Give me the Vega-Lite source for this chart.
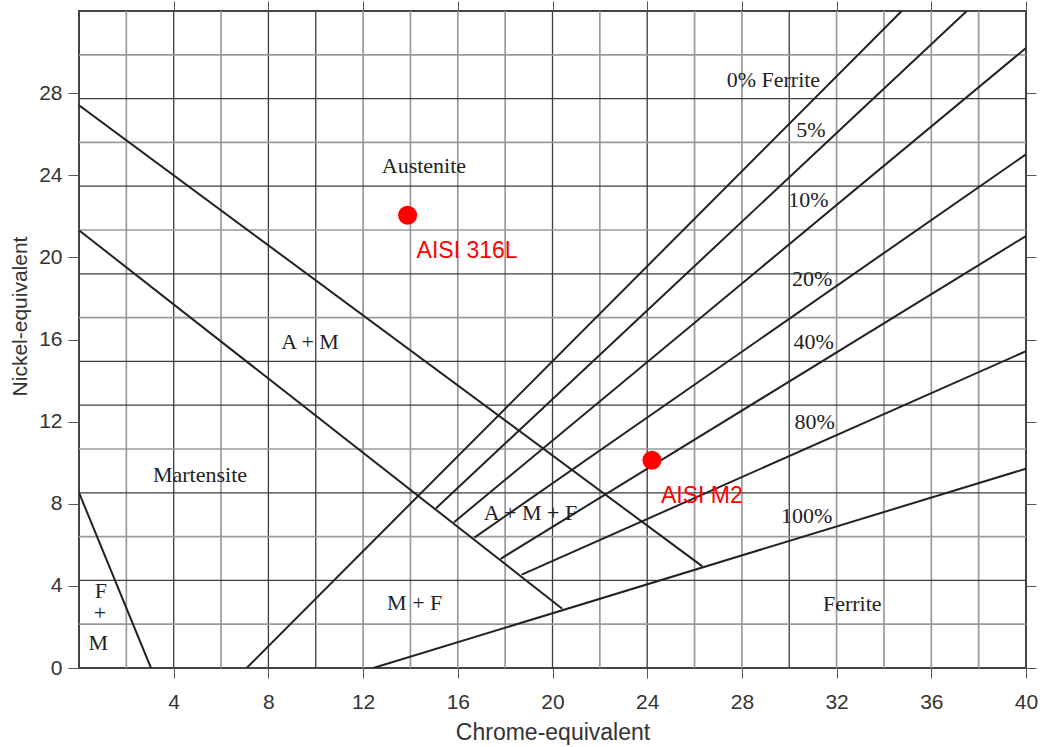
{
  "$schema": "https://vega.github.io/schema/vega-lite/v6.json",
  "width": 947,
  "height": 657,
  "autosize": {"type": "none"},
  "padding": {"left": 79, "top": 11, "right": 14, "bottom": 79},
  "background": "white",
  "config": {"view": {"stroke": "#444", "strokeWidth": 2}, "font": "Liberation Sans"},
  "datasets": {
    "gridVLight": [{"v": 2}, {"v": 6}, {"v": 12}, {"v": 14}, {"v": 16}, {"v": 18}, {"v": 22}, {"v": 26}, {"v": 28}, {"v": 32}, {"v": 34}, {"v": 36}, {"v": 38}],
    "gridVDark": [{"v": 4}, {"v": 8}, {"v": 10}, {"v": 20}, {"v": 24}, {"v": 30}],
    "gridHLight": [{"v": 29.867}, {"v": 25.6}, {"v": 21.333}, {"v": 17.067}, {"v": 10.667}, {"v": 6.4}, {"v": 2.133}],
    "gridHDark": [{"v": 27.733}, {"v": 23.467}, {"v": 19.2}, {"v": 14.933}, {"v": 12.8}, {"v": 8.533}, {"v": 4.267}],
    "lines": [
      {"id": "b1", "x": 0, "y": 27.41}, {"id": "b1", "x": 26.33, "y": 4.95},
      {"id": "b2", "x": 0, "y": 21.32}, {"id": "b2", "x": 20.41, "y": 2.89},
      {"id": "fm", "x": 0, "y": 8.54}, {"id": "fm", "x": 3.04, "y": 0},
      {"id": "f0", "x": 7.08, "y": 0}, {"id": "f0", "x": 34.75, "y": 32},
      {"id": "f5", "x": 15.08, "y": 7.78}, {"id": "f5", "x": 37.5, "y": 32},
      {"id": "f10", "x": 15.84, "y": 7.1}, {"id": "f10", "x": 40, "y": 30.2},
      {"id": "f20", "x": 16.7, "y": 6.35}, {"id": "f20", "x": 40, "y": 25.02},
      {"id": "f40", "x": 17.81, "y": 5.32}, {"id": "f40", "x": 40, "y": 21.04},
      {"id": "f80", "x": 18.7, "y": 4.55}, {"id": "f80", "x": 40, "y": 15.43},
      {"id": "f100", "x": 12.43, "y": 0}, {"id": "f100", "x": 40, "y": 9.71}
    ],
    "regions": [
      {"label": "Austenite", "x": 14.57, "y": 24.11},
      {"label": "0% Ferrite", "x": 29.33, "y": 28.3},
      {"label": "5%", "x": 30.92, "y": 25.86},
      {"label": "10%", "x": 30.81, "y": 22.43},
      {"label": "20%", "x": 30.97, "y": 18.61},
      {"label": "40%", "x": 31.03, "y": 15.56},
      {"label": "80%", "x": 31.07, "y": 11.66},
      {"label": "100%", "x": 30.74, "y": 7.06},
      {"label": "Ferrite", "x": 32.66, "y": 2.76},
      {"label": "M + F", "x": 14.18, "y": 2.84},
      {"label": "A + M + F", "x": 19.07, "y": 7.23},
      {"label": "A + M", "x": 9.76, "y": 15.56},
      {"label": "Martensite", "x": 5.11, "y": 9.06},
      {"label": "F", "x": 0.92, "y": 3.43},
      {"label": "+", "x": 0.89, "y": 2.32},
      {"label": "M", "x": 0.81, "y": 0.89}
    ],
    "steels": [
      {"name": "AISI 316L", "x": 13.88, "y": 22.05},
      {"name": "AISI M2", "x": 24.2, "y": 10.12}
    ]
  },
  "layer": [
    {
      "data": {"name": "gridVLight"},
      "mark": {"type": "rule", "color": "#9a9a9a", "strokeWidth": 1.7},
      "encoding": {
        "x": {
          "field": "v", "type": "quantitative",
          "scale": {"domain": [0, 40], "nice": false, "zero": false},
          "axis": {
            "orient": "bottom", "values": [4, 8, 12, 16, 20, 24, 28, 32, 36, 40],
            "grid": false, "domain": false, "tickSize": 10, "tickColor": "#555", "tickWidth": 1,
            "labelFont": "Liberation Sans", "labelFontSize": 21, "labelColor": "#333", "labelPadding": 13,
            "labelFlush": false, "labelOverlap": false,
            "title": "Chrome-equivalent", "titleFont": "Liberation Sans", "titleFontSize": 23,
            "titleFontWeight": "normal", "titleColor": "#333", "titleY": 71, "titleBaseline": "alphabetic"
          }
        }
      }
    },
    {
      "data": {"name": "gridVDark"},
      "mark": {"type": "rule", "color": "#3c3c3c", "strokeWidth": 1.3},
      "encoding": {
        "x": {
          "field": "v", "type": "quantitative",
          "axis": {
            "orient": "top", "values": [4, 8, 12, 16, 20, 24, 28, 32, 36, 40],
            "grid": false, "domain": false, "labels": false, "tickSize": 10, "tickColor": "#555", "title": null
          }
        }
      }
    },
    {
      "data": {"name": "gridHLight"},
      "mark": {"type": "rule", "color": "#9a9a9a", "strokeWidth": 1.7},
      "encoding": {
        "y": {
          "field": "v", "type": "quantitative",
          "scale": {"domain": [0, 32], "nice": false, "zero": false},
          "axis": {
            "orient": "left", "values": [0, 4, 8, 12, 16, 20, 24, 28],
            "grid": false, "domain": false, "tickSize": 11, "tickColor": "#555", "tickWidth": 1,
            "labelFont": "Liberation Sans", "labelFontSize": 21, "labelColor": "#333", "labelPadding": 6,
            "labelFlush": false, "labelOverlap": false,
            "title": "Nickel-equivalent", "titleFont": "Liberation Sans", "titleFontSize": 21,
            "titleFontWeight": "normal", "titleColor": "#333", "titleX": -59, "titleY": 305,
            "titleAngle": -90, "titleAlign": "center", "titleBaseline": "middle"
          }
        }
      }
    },
    {
      "data": {"name": "gridHDark"},
      "mark": {"type": "rule", "color": "#3c3c3c", "strokeWidth": 1.3},
      "encoding": {
        "y": {
          "field": "v", "type": "quantitative",
          "axis": {
            "orient": "right", "values": [0, 4, 8, 12, 16, 20, 24, 28],
            "grid": false, "domain": false, "labels": false, "tickSize": 10, "tickColor": "#555", "title": null
          }
        }
      }
    },
    {
      "data": {"name": "lines"},
      "mark": {"type": "line", "color": "#222", "strokeWidth": 2, "clip": true},
      "encoding": {
        "x": {"field": "x", "type": "quantitative", "axis": null},
        "y": {"field": "y", "type": "quantitative", "axis": null},
        "detail": {"field": "id"}
      }
    },
    {
      "data": {"name": "regions"},
      "mark": {"type": "text", "font": "Liberation Serif", "fontSize": 22, "color": "#222", "align": "center", "baseline": "alphabetic"},
      "encoding": {
        "x": {"field": "x", "type": "quantitative", "axis": null},
        "y": {"field": "y", "type": "quantitative", "axis": null},
        "text": {"field": "label"}
      }
    },
    {
      "data": {"name": "steels"},
      "mark": {"type": "circle", "color": "#ff0000", "opacity": 1, "size": 360},
      "encoding": {
        "x": {"field": "x", "type": "quantitative", "axis": null},
        "y": {"field": "y", "type": "quantitative", "axis": null}
      }
    },
    {
      "data": {"name": "steels"},
      "mark": {"type": "text", "font": "Liberation Sans", "fontSize": 23, "color": "#ff0000", "align": "left", "baseline": "alphabetic", "dx": 9, "dy": 43},
      "encoding": {
        "x": {"field": "x", "type": "quantitative", "axis": null},
        "y": {"field": "y", "type": "quantitative", "axis": null},
        "text": {"field": "name"}
      }
    }
  ]
}
